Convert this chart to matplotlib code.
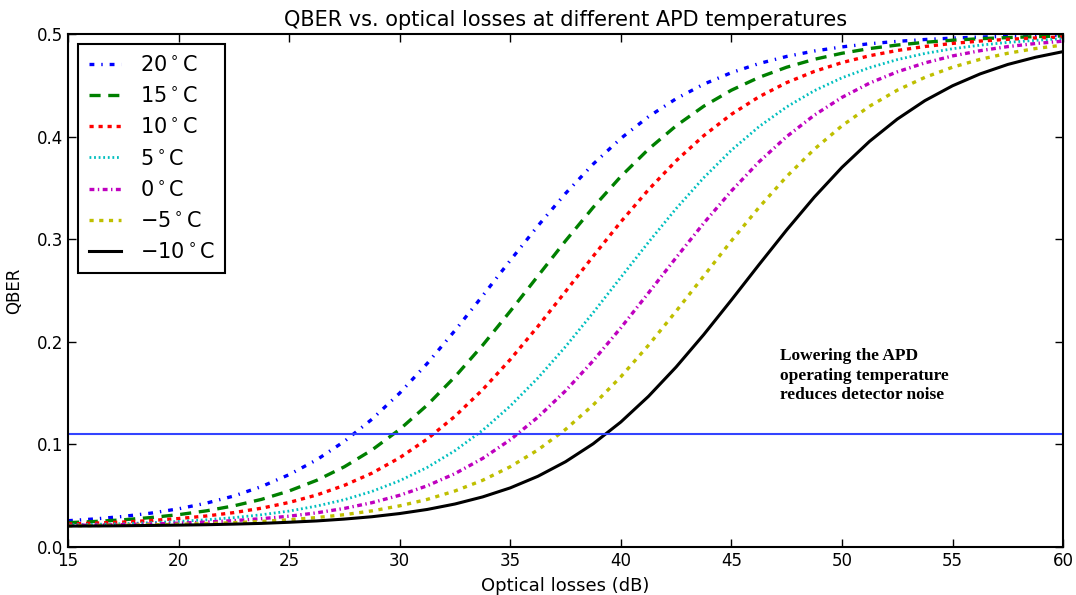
import matplotlib
matplotlib.use("Agg")
import matplotlib.pyplot as plt

plt.rcParams["lines.scale_dashes"] = False

# optical losses (dB), read every 1.25 dB
losses = [15, 16.25, 17.5, 18.75, 20, 21.25, 22.5, 23.75, 25, 26.25, 27.5, 28.75, 30,
          31.25, 32.5, 33.75, 35, 36.25, 37.5, 38.75, 40, 41.25, 42.5, 43.75, 45,
          46.25, 47.5, 48.75, 50, 51.25, 52.5, 53.75, 55, 56.25, 57.5, 58.75, 60]

qber_20 = [0.0256, 0.0274, 0.0298, 0.0330, 0.0372, 0.0427, 0.0497, 0.0589, 0.0705, 0.0850,
           0.1030, 0.1246, 0.1500, 0.1790, 0.2110, 0.2448, 0.2793, 0.3130, 0.3446, 0.3732,
           0.3982, 0.4194, 0.4369, 0.4511, 0.4623, 0.4712, 0.4781, 0.4834, 0.4874, 0.4905,
           0.4928, 0.4946, 0.4960, 0.4970, 0.4977, 0.4983, 0.4987]
qber_15 = [0.0237, 0.0249, 0.0265, 0.0287, 0.0315, 0.0352, 0.0401, 0.0464, 0.0546, 0.0650,
           0.0782, 0.0946, 0.1146, 0.1384, 0.1659, 0.1966, 0.2298, 0.2641, 0.2984, 0.3310,
           0.3611, 0.3877, 0.4105, 0.4296, 0.4452, 0.4577, 0.4676, 0.4753, 0.4812, 0.4858,
           0.4892, 0.4919, 0.4939, 0.4954, 0.4965, 0.4974, 0.4981]
qber_10 = [0.0224, 0.0233, 0.0243, 0.0258, 0.0277, 0.0302, 0.0335, 0.0378, 0.0434, 0.0507,
           0.0601, 0.0720, 0.0870, 0.1053, 0.1274, 0.1533, 0.1827, 0.2150, 0.2490, 0.2834,
           0.3169, 0.3482, 0.3764, 0.4009, 0.4217, 0.4388, 0.4526, 0.4635, 0.4721, 0.4788,
           0.4839, 0.4878, 0.4908, 0.4931, 0.4948, 0.4961, 0.4971]
qber_5 = [0.0215, 0.0221, 0.0227, 0.0237, 0.0249, 0.0265, 0.0286, 0.0314, 0.0350, 0.0399,
          0.0461, 0.0542, 0.0646, 0.0776, 0.0939, 0.1137, 0.1374, 0.1647, 0.1953, 0.2284,
          0.2628, 0.2970, 0.3298, 0.3599, 0.3867, 0.4097, 0.4289, 0.4447, 0.4573, 0.4672,
          0.4750, 0.4810, 0.4856, 0.4891, 0.4918, 0.4938, 0.4954]
qber_0 = [0.0210, 0.0214, 0.0218, 0.0224, 0.0232, 0.0243, 0.0257, 0.0276, 0.0300, 0.0333,
          0.0376, 0.0432, 0.0504, 0.0597, 0.0715, 0.0863, 0.1045, 0.1265, 0.1522, 0.1815,
          0.2136, 0.2476, 0.2820, 0.3156, 0.3470, 0.3754, 0.4000, 0.4209, 0.4382, 0.4521,
          0.4631, 0.4718, 0.4786, 0.4837, 0.4877, 0.4907, 0.4930]
qber_m5 = [0.0207, 0.0209, 0.0212, 0.0216, 0.0221, 0.0228, 0.0237, 0.0249, 0.0265, 0.0287,
           0.0315, 0.0352, 0.0401, 0.0464, 0.0546, 0.0650, 0.0782, 0.0946, 0.1146, 0.1384,
           0.1659, 0.1966, 0.2298, 0.2641, 0.2984, 0.3310, 0.3611, 0.3877, 0.4105, 0.4296,
           0.4452, 0.4577, 0.4676, 0.4753, 0.4812, 0.4858, 0.4892]
qber_m10 = [0.0204, 0.0205, 0.0207, 0.0210, 0.0213, 0.0217, 0.0223, 0.0230, 0.0241, 0.0254,
            0.0272, 0.0295, 0.0326, 0.0366, 0.0419, 0.0488, 0.0576, 0.0689, 0.0831, 0.1006,
            0.1218, 0.1468, 0.1754, 0.2070, 0.2407, 0.2752, 0.3090, 0.3410, 0.3700, 0.3954,
            0.4170, 0.4350, 0.4495, 0.4611, 0.4703, 0.4773, 0.4828]

labels = ["20$^\\circ$C", "15$^\\circ$C", "10$^\\circ$C", "5$^\\circ$C",
          "0$^\\circ$C", "$-$5$^\\circ$C", "$-$10$^\\circ$C"]
threshold = 0.11

series = [qber_20, qber_15, qber_10, qber_5, qber_0, qber_m5, qber_m10]
colors = ["#0000ff", "#008000", "#ff0000", "#00bfbf", "#bf00bf", "#bfbf00", "#000000"]
styles = [(0, (3.5, 5, 1, 5)), (0, (8, 5.5)), (0, (3, 3.5)), (0, (1.3, 2)),
          (0, (3.5, 2.5, 1, 2.5)), (0, (3, 4)), "-"]
widths = [2.4, 2.4, 2.4, 2.0, 2.4, 2.4, 2.2]

fig = plt.figure(figsize=(10.76, 5.95), dpi=100)
ax = fig.add_axes([0.0632, 0.0807, 0.9248, 0.8622])

for y, c, s, w, lab in zip(series, colors, styles, widths, labels):
    ax.plot(losses, y, color=c, ls=s, lw=w, label=lab)
ax.axhline(threshold, color="#3344ff", lw=1.5)

ax.set_xlim(15, 60)
ax.set_ylim(0, 0.5)
ax.set_xticks([15, 20, 25, 30, 35, 40, 45, 50, 55, 60])
ax.set_yticks([0.0, 0.1, 0.2, 0.3, 0.4, 0.5])
ax.set_yticklabels(["0.0", "0.1", "0.2", "0.3", "0.4", "0.5"])
ax.tick_params(direction="in", top=True, right=True, labelsize=12, length=6, width=1)
for sp in ax.spines.values():
    sp.set_linewidth(1.5)

ax.set_xlabel("Optical losses (dB)", fontsize=13, labelpad=5)
ax.set_ylabel("QBER", fontsize=12, labelpad=10)
ax.set_title("QBER vs. optical losses at different APD temperatures", fontsize=15, pad=6)

leg = ax.legend(loc="upper left", fontsize=15, handlelength=1.55, handletextpad=0.9,
                fancybox=False, framealpha=1, edgecolor="black", borderpad=0.5,
                labelspacing=0.54)
leg.get_frame().set_linewidth(1.5)

ax.text(0.716, 0.387, "Lowering the APD\noperating temperature\nreduces detector noise",
        transform=ax.transAxes, family="Liberation Serif", fontweight="bold",
        fontsize=12.5, va="top", ha="left", linespacing=1.27)

fig.savefig("out.png", dpi=100)
